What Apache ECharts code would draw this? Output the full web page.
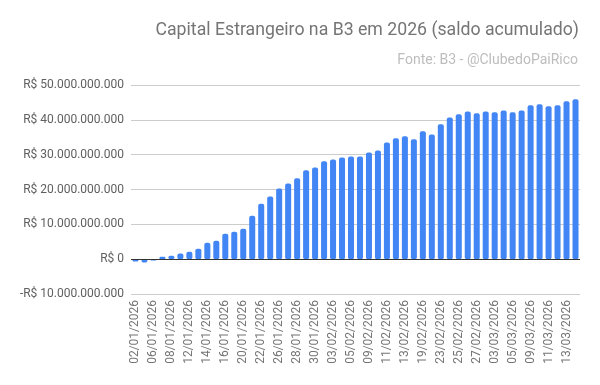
<!DOCTYPE html>
<html>
<head>
<meta charset="utf-8">
<script src="https://cdn.jsdelivr.net/npm/echarts@6/dist/echarts.min.js"></script>
<style>html,body{margin:0;padding:0;background:#fff}#c{width:600px;height:385px}</style>
</head>
<body>
<div id="c"></div>
<script>
const categories = ["02/01/2026","05/01/2026","06/01/2026","07/01/2026","08/01/2026","09/01/2026","12/01/2026","13/01/2026","14/01/2026","15/01/2026","16/01/2026","19/01/2026","20/01/2026","21/01/2026","22/01/2026","23/01/2026","26/01/2026","27/01/2026","28/01/2026","29/01/2026","30/01/2026","02/02/2026","03/02/2026","04/02/2026","05/02/2026","06/02/2026","09/02/2026","10/02/2026","11/02/2026","12/02/2026","13/02/2026","18/02/2026","19/02/2026","20/02/2026","23/02/2026","24/02/2026","25/02/2026","26/02/2026","27/02/2026","02/03/2026","03/03/2026","04/03/2026","05/03/2026","06/03/2026","09/03/2026","10/03/2026","11/03/2026","12/03/2026","13/03/2026","16/03/2026"];
// saldo acumulado, bilhões de R$
const saldoBi = [-0.67,-0.96,-0.4,0.67,0.96,1.63,2.1,3.0,4.7,5.3,7.3,7.9,8.7,12.5,15.9,18.0,20.3,21.7,23.2,25.5,26.3,28.1,28.6,29.2,29.5,29.5,30.6,31.2,33.5,34.7,35.3,34.4,36.7,35.8,38.7,40.7,41.6,42.4,41.9,42.4,42.2,42.7,42.2,42.7,44.2,44.5,43.9,44.2,45.3,45.9];
const yMin = -10000000000, yMax = 50000000000, yStep = 10000000000;
const titleText = "Capital Estrangeiro na B3 em 2026 (saldo acumulado)";
const subText = "Fonte: B3 - @ClubedoPaiRico";

const values = saldoBi.map(v => Math.round(v * 1e9));
function fmt(v) {
  const neg = v < 0;
  const s = Math.abs(v).toString().replace(/\B(?=(\d{3})+(?!\d))/g, ".");
  return (neg ? "-" : "") + "R$ " + s;
}
const chart = echarts.init(document.getElementById('c'));
chart.setOption({
  animation: false,
  textStyle: { fontFamily: 'Roboto' },
  title: [{
    text: titleText, right: 16, top: 17,
    textStyle: { fontFamily: 'Roboto', fontSize: 17.7, fontWeight: 'normal', color: '#757575' }
  }, {
    text: subText, right: 17, top: 48,
    textStyle: { fontFamily: 'Roboto', fontSize: 14, fontWeight: 'normal', color: '#bdbdbd' }
  }],
  grid: { left: 131, right: 20, top: 85, bottom: 91, containLabel: false },
  xAxis: {
    type: 'category', data: categories,
    axisLine: { show: false, onZero: false },
    axisTick: { show: false },
    axisLabel: { rotate: 90, interval: 1, fontSize: 12, color: '#757575', margin: 6, fontFamily: 'Roboto' }
  },
  yAxis: {
    type: 'value', min: yMin, max: yMax, interval: yStep,
    axisLine: { show: false }, axisTick: { show: false },
    splitLine: { lineStyle: { color: '#cccccc', width: 1 } },
    axisLabel: { formatter: fmt, fontSize: 12, color: '#5f5f5f', margin: 7, fontFamily: 'Roboto' }
  },
  series: [{
    type: 'bar', data: values, barCategoryGap: '33%',
    itemStyle: { color: '#4285F4', borderRadius: [2, 2, 2, 2] },
    markLine: {
      silent: true, symbol: 'none', label: { show: false },
      lineStyle: { color: '#333333', width: 1, type: 'solid' },
      data: [{ yAxis: 0 }]
    }
  }]
});
</script>
</body>
</html>
